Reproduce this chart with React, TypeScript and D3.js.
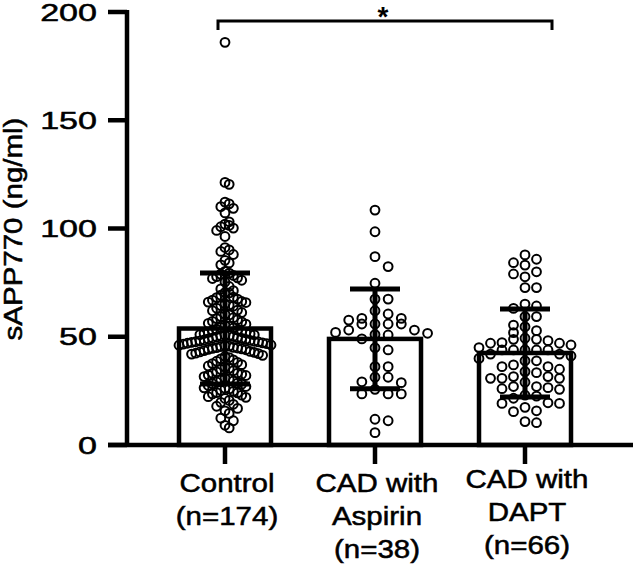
import React from "react";
import * as d3 from "d3";

const categories = ["Control", "CAD with Aspirin", "CAD with DAPT"];
const categoryLabels = [
  ["Control", "(n=174)"],
  ["CAD with", "Aspirin", "(n=38)"],
  ["CAD with", "DAPT", "(n=66)"],
];
const means = [53.8, 49.0, 42.5];
const sds = [25.6, 23.0, 20.3];
const yTicks = [0, 50, 100, 150, 200];
const yTitle = "sAPP770 (ng/ml)";
const sigFrom = "Control";
const sigTo = "CAD with DAPT";
const sigLabel = "*";

const controlValues = [
  186.0,
  121.3, 120.4,
  112.2, 111.4, 110.1, 109.3,
  107.2,
  103.1, 102.0, 101.4, 100.8, 100.2, 99.1,
  96.3,
  91.2, 90.1, 89.4, 88.0,
  85.3, 84.1, 83.2,
  80.2, 79.4, 78.9, 78.3, 77.8, 77.2, 76.9, 76.1, 75.3,
  73.2, 72.1, 71.3, 70.4, 69.2, 68.3,
  67.4, 66.9, 66.3, 65.8, 65.2, 64.7, 64.1, 63.2, 62.3,
  61.2, 60.4, 59.3, 58.4, 57.9, 57.1, 56.2, 55.4, 54.9, 54.1,
  53.4, 52.9, 52.3, 51.8, 51.4, 51.0, 50.7, 50.3, 49.9, 49.6, 49.2, 48.8, 48.5,
  48.1, 47.7, 47.4, 47.0, 46.6, 46.2, 45.9, 45.5, 45.1, 44.8, 44.4, 44.0, 43.6,
  43.2, 42.8, 42.4, 42.0,
  41.4, 40.9, 40.4, 39.8, 39.3, 38.7, 38.2, 37.6, 37.1, 36.5, 36.0, 35.4, 34.9,
  34.3, 33.8, 33.2, 32.7, 32.1, 31.6, 31.0, 30.5, 30.1, 29.6, 29.1,
  28.6, 28.1, 27.5, 27.0, 26.4, 25.9, 25.3, 24.8, 24.2, 23.6, 23.0, 22.3, 21.5,
  20.6, 19.7, 18.8, 17.9, 16.9, 15.8, 14.6, 12.4, 11.2, 9.1, 7.9,
  60.1, 58.8, 56.9, 55.8, 54.3,
  53.1, 52.0, 50.9, 50.1, 49.0, 47.9, 47.2, 46.1, 45.0, 44.2, 43.0, 42.2,
  51.5, 50.5, 49.4, 48.3, 47.6, 46.8, 45.7, 44.6, 33.1, 32.3,
  70.2, 68.1, 66.0, 64.4, 62.0,
  28.3, 26.2, 24.1, 22.0,
];

const aspirinValues = [
  108.5, 98.5, 87.0, 82.4, 74.7, 67.4, 67.4, 62.0, 60.5,
  55.9, 57.7, 55.9, 58.5, 58.5, 55.9, 55.9,
  50.8, 53.1, 51.6, 53.1, 52.0, 51.0, 49.0,
  43.9, 44.9, 36.2, 36.2, 31.3, 28.8, 29.2, 31.3,
  25.7, 23.6, 23.6, 23.6, 11.2, 11.9, 5.7,
];

const daptValues = [
  87.8, 85.8, 84.2, 83.1, 80.0, 79.0, 77.7, 72.7, 72.7,
  65.1, 64.2, 63.1, 59.3, 59.3, 54.6, 55.4, 52.8, 51.9,
  48.2, 49.3, 48.8, 48.8, 47.3, 47.0, 46.2, 47.0,
  43.9, 43.9, 43.9, 43.9, 42.0, 43.9, 41.1, 38.9, 38.9,
  35.0, 36.2, 36.2, 33.9, 30.8, 30.8, 31.6, 31.6, 33.4, 30.8,
  25.7, 26.5, 27.0, 27.0, 26.0, 23.0, 22.6, 21.6,
  19.2, 19.2, 17.4, 19.5, 15.8, 15.4, 10.3, 10.8,
  45.0, 42.0, 37.0, 29.0, 40.0,
];

const groupValues = [controlValues, aspirinValues, daptValues];

const FONT = "'Liberation Sans', Arial, Helvetica, sans-serif";

export default function App() {
  const W = 633;
  const H = 566;
  const y = d3.scaleLinear().domain([0, 200]).range([445, 12]);
  const x = d3.scalePoint<string>().domain(categories).range([225, 525]);
  const barW = 92;
  const capW = 50;
  const axisX = 127;
  const dotR = 4.4;

  function swarm(values: number[], cx: number, maxSpan: number, maxStep: number, rowPx: number) {
    const pts = values.map((v) => ({ v, py: y(v) })).sort((a, b) => a.py - b.py);
    const rows: { start: number; pts: { v: number; py: number }[] }[] = [];
    let cur: { start: number; pts: { v: number; py: number }[] } | null = null;
    for (const p of pts) {
      if (!cur || p.py - cur.start > rowPx) {
        cur = { start: p.py, pts: [] };
        rows.push(cur);
      }
      cur.pts.push(p);
    }
    const maxCount = d3.max(rows, (r) => r.pts.length) || 1;
    const step = maxCount > 1 ? Math.min(maxStep, maxSpan / (maxCount - 1)) : 0;
    const out: { x: number; y: number }[] = [];
    rows.forEach((r) =>
      r.pts.forEach((p, i) => {
        const k = i === 0 ? 0 : i % 2 === 1 ? (i + 1) / 2 : -i / 2;
        out.push({ x: cx + k * step, y: p.py });
      })
    );
    return out;
  }

  const x0 = x(sigFrom)!;
  const x1 = x(sigTo)!;
  const textStroke = { stroke: "#000", strokeWidth: 0.5 };

  return (
    <svg
      width={W}
      height={H}
      viewBox={`0 0 ${W} ${H}`}
      style={{ position: "absolute", left: 0, top: 0, background: "#fff" }}
    >
      <rect x={0} y={0} width={W} height={H} fill="#fff" />
      {/* bars */}
      {categories.map((c, i) => (
        <rect
          key={c}
          x={x(c)! - barW / 2}
          y={y(means[i])}
          width={barW}
          height={y(0) - y(means[i])}
          fill="#fff"
          stroke="#000"
          strokeWidth={4.5}
        />
      ))}
      {/* dots */}
      {categories.map((c, i) =>
        swarm(groupValues[i], x(c)!, 92, 15, 10).map((p, j) => (
          <circle
            key={c + j}
            cx={p.x}
            cy={p.y}
            r={dotR}
            fill="none"
            stroke="#000"
            strokeWidth={2}
          />
        ))
      )}
      {/* error bars */}
      {categories.map((c, i) => {
        const cx = x(c)!;
        const hi = y(means[i] + sds[i]);
        const lo = y(means[i] - sds[i]);
        return (
          <g key={c} stroke="#000" strokeWidth={5}>
            <line x1={cx} x2={cx} y1={hi} y2={lo} />
            <line x1={cx - capW / 2} x2={cx + capW / 2} y1={hi} y2={hi} />
            <line x1={cx - capW / 2} x2={cx + capW / 2} y1={lo} y2={lo} />
          </g>
        );
      })}
      {/* y axis */}
      <line x1={axisX} x2={axisX} y1={y(200) - 2} y2={y(0) + 2} stroke="#000" strokeWidth={4.5} />
      {yTicks.map((t) => (
        <g key={t}>
          <line x1={108} x2={axisX} y1={y(t)} y2={y(t)} stroke="#000" strokeWidth={4.5} />
          <text
            transform={`translate(97,${y(t)}) scale(1.42,1)`}
            textAnchor="end"
            dy="0.36em"
            fontFamily={FONT}
            fontSize={24}
            fill="#000"
            {...textStroke}
          >
            {t}
          </text>
        </g>
      ))}
      <text
        transform={`translate(22,229) rotate(-90) scale(1.18,1)`}
        textAnchor="middle"
        fontFamily={FONT}
        fontSize={25}
        fill="#000"
        {...textStroke}
      >
        {yTitle}
      </text>
      {/* x axis */}
      <line x1={108} x2={W} y1={y(0)} y2={y(0)} stroke="#000" strokeWidth={4.5} />
      {categories.map((c, i) => (
        <g key={c}>
          <line x1={x(c)!} x2={x(c)!} y1={y(0)} y2={464} stroke="#000" strokeWidth={4.5} />
          {categoryLabels[i].map((ln, k) => (
            <text
              key={k}
              transform={`translate(${x(c)! + 2},${(i === 2 ? 488 : 492) + k * 33}) scale(1.18,1)`}
              textAnchor="middle"
              fontFamily={FONT}
              fontSize={25}
              fill="#000"
              {...textStroke}
            >
              {ln}
            </text>
          ))}
        </g>
      ))}
      {/* significance bracket */}
      <path
        d={`M${x0 - 7},30 V21 H${x1 + 27} V30`}
        fill="none"
        stroke="#000"
        strokeWidth={3}
      />
      <text
        x={(x0 + x1) / 2 + 8}
        y={26}
        textAnchor="middle"
        fontFamily={FONT}
        fontWeight="bold"
        fontSize={28}
        fill="#000"
      >
        {sigLabel}
      </text>
    </svg>
  );
}
